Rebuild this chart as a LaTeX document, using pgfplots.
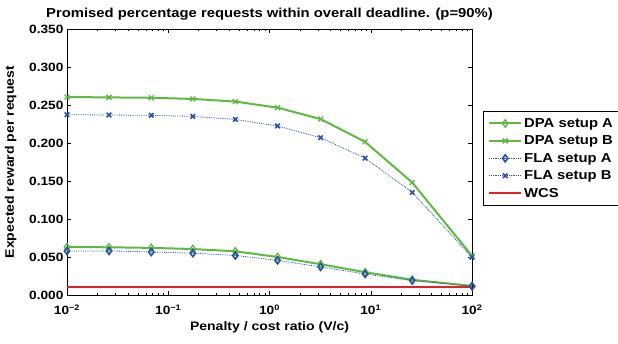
\documentclass[border=0pt]{standalone}
\usepackage{fontspec}
\setmainfont{Liberation Sans}[BoldFont=Liberation Sans Bold]
\newfontfamily\hb{Liberation Sans Bold}[FakeStretch=1.14]
\usepackage{pgfplots}
\pgfplotsset{compat=1.18}
\definecolor{cgreen}{RGB}{95,185,65}
\definecolor{cblue}{RGB}{40,80,170}
\definecolor{cred}{RGB}{230,30,40}
\begin{document}
\begin{tikzpicture}[x=1pt,y=1pt]
\path[use as bounding box] (0,0) rectangle (618,343);
\begin{axis}[
  at={(67pt,48pt)}, anchor=south west,
  scale only axis, width=405pt, height=266pt,
  xmode=log, xmin=0.01, xmax=100,
  ymin=0, ymax=0.35,
  xtick={0.01,0.1,1,10,100},
  xticklabels={{10\textsuperscript{−2}},{10\textsuperscript{−1}},{10\textsuperscript{0}},{10\textsuperscript{1}},{10\textsuperscript{2}}},
  ytick={0,0.05,0.1,0.15,0.2,0.25,0.3,0.35},
  yticklabel style={/pgf/number format/.cd, fixed, fixed zerofill, precision=3, assume math mode=true},
  xticklabel style={yshift=-6pt},
  tick label style={font=\hb\fontsize{12}{13}\selectfont},
  label style={font=\hb\fontsize{12.3}{14}\selectfont},
  title style={font=\hb\fontsize{13}{14}\selectfont, yshift=-1pt},
  title={Promised percentage requests within overall deadline. (p=90\%)},
  xlabel={Penalty / cost ratio (V/c)},
  ylabel={Expected reward per request},
  xlabel style={yshift=0pt},
  ylabel style={yshift=6pt},
  axis line style={line width=0.8pt},
  tick style={line width=0.5pt, black},
  major tick length=4pt, minor tick length=2.5pt,
  legend style={at={(1.027,0.692)}, anchor=north west, font=\hb\fontsize{13}{14}\selectfont,
    draw=black, line width=0.6pt, inner xsep=5pt, inner ysep=5pt, row sep=3pt, legend cell align=left},
  legend image code/.code={\draw[mark repeat=2,mark phase=2] plot coordinates {(0pt,0pt) (16pt,0pt) (32pt,0pt)};},
]
\addplot[cgreen, line width=2pt, mark=diamond, mark size=3.7pt, mark options={solid, line width=1.3pt}]
 coordinates {(0.01,0.063) (0.026,0.0628) (0.068,0.062) (0.175,0.0605) (0.46,0.0575) (1.2,0.050) (3.2,0.0405) (8.8,0.030) (25.7,0.020) (100,0.012)};
\addlegendentry{DPA setup A}
\addplot[cgreen, line width=2pt, mark=x, mark size=3.5pt, mark options={solid, line width=1.3pt}]
 coordinates {(0.01,0.2605) (0.026,0.260) (0.068,0.2595) (0.175,0.258) (0.46,0.2545) (1.2,0.2465) (3.2,0.2315) (8.8,0.2015) (25.7,0.148) (100,0.0515)};
\addlegendentry{DPA setup B}
\addplot[cblue, line width=0.8pt, densely dotted, mark=diamond, mark size=3.5pt, mark options={solid, line width=1.6pt}]
 coordinates {(0.01,0.058) (0.026,0.058) (0.068,0.0566) (0.175,0.055) (0.46,0.052) (1.2,0.0456) (3.2,0.037) (8.8,0.0276) (25.7,0.019) (100,0.0114)};
\addlegendentry{FLA setup A}
\addplot[cblue, line width=0.8pt, densely dotted, mark=x, mark size=3.2pt, mark options={solid, line width=1.6pt}]
 coordinates {(0.01,0.2373) (0.026,0.2368) (0.068,0.2364) (0.175,0.235) (0.46,0.231) (1.2,0.2224) (3.2,0.207) (8.8,0.180) (25.7,0.135) (100,0.0496)};
\addlegendentry{FLA setup B}
\addplot[cred, line width=2pt] coordinates {(0.01,0.011) (100,0.011)};
\addlegendentry{WCS}
\end{axis}
\end{tikzpicture}
\end{document}
